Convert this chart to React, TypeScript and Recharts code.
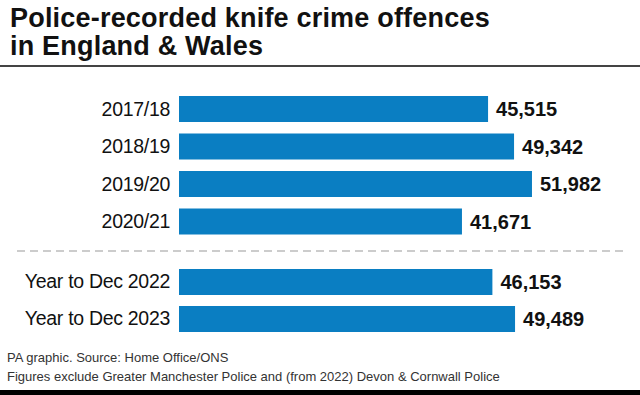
import React from 'react';
import { BarChart, Bar, XAxis, YAxis, LabelList } from 'recharts';

const periods = ['2017/18', '2018/19', '2019/20', '2020/21', 'Year to Dec 2022', 'Year to Dec 2023'];
const offences = [45515, 49342, 51982, 41671, 46153, 49489];
const groupOf = [0, 0, 0, 0, 1, 1];
const xTicks = [0, 62000];

const titleLines = ['Police-recorded knife crime offences', 'in England & Wales'];
const footnotes = [
  'PA graphic. Source: Home Office/ONS',
  'Figures exclude Greater Manchester Police and (from 2022) Devon & Cornwall Police',
];

const BLUE = '#0a7ec2';
const FONT = '"Liberation Sans", Arial, Helvetica, sans-serif';

const rows = periods.map((p, i) => ({ period: p, value: offences[i], group: groupOf[i] }));
const topRows = rows.filter((r) => r.group === 0);
const bottomRows = rows.filter((r) => r.group === 1);

const fmt = (v: any) => Number(v).toLocaleString('en-GB');

function Chart({ data, height }: { data: any[]; height: number }) {
  return (
    <BarChart
      width={640}
      height={height}
      data={data}
      layout="vertical"
      margin={{ top: 0, right: 40, bottom: 0, left: 0 }}
      barSize={26}
    >
      <XAxis type="number" domain={[xTicks[0], xTicks[1]]} hide />
      <YAxis
        type="category"
        dataKey="period"
        width={179}
        tickLine={false}
        axisLine={false}
        tickSize={0}
        tickMargin={9}
        interval={0}
        tick={{ fontFamily: FONT, fontSize: 19.5, fill: '#111', letterSpacing: -0.3 }}
      />
      <Bar dataKey="value" fill={BLUE} isAnimationActive={false}>
        <LabelList
          dataKey="value"
          position="right"
          offset={8}
          formatter={fmt}
          style={{ fontFamily: FONT, fontSize: 20, fontWeight: 700, fill: '#111' }}
        />
      </Bar>
    </BarChart>
  );
}

export default function App() {
  return (
    <div
      style={{
        position: 'absolute',
        left: 0,
        top: 0,
        width: 640,
        height: 395,
        background: '#fff',
        overflow: 'hidden',
      }}
    >
      <svg width={640} height={395} style={{ position: 'absolute', left: 0, top: 0 }}>
        <text x={10} y={27} fontFamily={FONT} fontSize={27} fontWeight={700} fill="#111" letterSpacing={0.2}>
          {titleLines[0]}
        </text>
        <text x={10} y={55} fontFamily={FONT} fontSize={27} fontWeight={700} fill="#111" letterSpacing={0.2}>
          {titleLines[1]}
        </text>
        <line x1={0} x2={640} y1={66} y2={66} stroke="#444" strokeWidth={2} />
        <line x1={17} x2={625} y1={251} y2={251} stroke="#999" strokeWidth={1} strokeDasharray="8 5" />
        <text x={7} y={362} fontFamily={FONT} fontSize={13} fill="#333">
          {footnotes[0]}
        </text>
        <text x={7} y={381} fontFamily={FONT} fontSize={13} fill="#333">
          {footnotes[1]}
        </text>
        <rect x={0} y={390} width={640} height={5} fill="#000" />
      </svg>
      <div style={{ position: 'absolute', left: 0, top: 90 }}>
        <Chart data={topRows} height={150} />
      </div>
      <div style={{ position: 'absolute', left: 0, top: 262.5 }}>
        <Chart data={bottomRows} height={74} />
      </div>
    </div>
  );
}
